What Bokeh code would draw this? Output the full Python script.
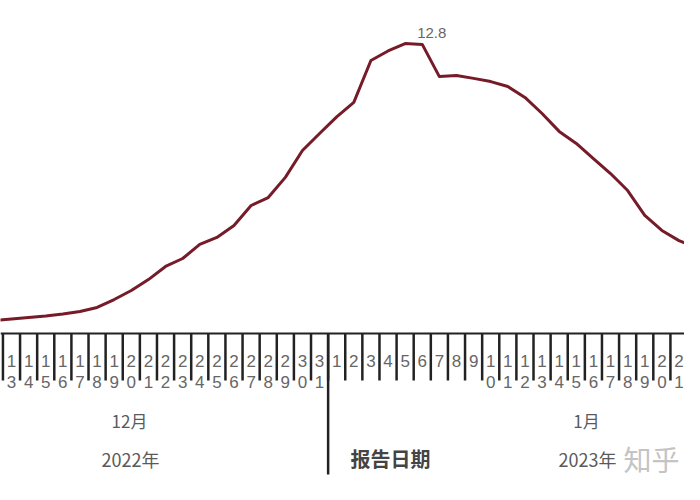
import pandas as pd
from bokeh.plotting import figure
from bokeh.models import Range1d, Span
from bokeh.core.properties import value
from bokeh.embed import file_html
from bokeh.resources import INLINE

# ---------------- data ----------------
dates = list(pd.date_range("2022-12-12", "2023-01-22", freq="D"))
values = [0.57, 0.64, 0.71, 0.77, 0.86, 0.97, 1.15, 1.50, 1.90, 2.38,
          2.96, 3.31, 3.93, 4.24, 4.77, 5.65, 6.00, 6.89, 8.08, 8.83,
          9.56, 10.20, 12.05, 12.47, 12.80, 12.76, 11.34, 11.39, 11.26, 11.12,
          10.90, 10.42, 9.71, 8.92, 8.39, 7.72, 7.06, 6.31, 5.21, 4.55,
          4.10, 3.80]
month_labels = ["12月", "1月"]
year_labels = ["2022年", "2023年"]
axis_title = "报告日期"
watermark = "知乎"

# ---------------- layout ----------------
W, H = 684, 484
DX = 17.115              # pixels per day
X0 = 11 - DX             # pixel of first category (Dec 12, off the left edge)
AXIS_Y = 333             # pixel of the axis line (value 0)
S = 22.656               # pixels per unit

idx = list(range(len(dates)))
x_start = (0 - X0) / DX
x_end = (W - X0) / DX
y_start = (AXIS_Y - H) / S
y_end = AXIS_Y / S

p = figure(width=W, height=H, output_backend="svg", toolbar_location=None,
           x_range=Range1d(x_start, x_end), y_range=Range1d(y_start, y_end),
           x_axis_location=None, y_axis_location=None, min_border=0,
           background_fill_color="white", border_fill_color="white")
p.grid.visible = False
p.outline_line_color = None
p.extra_y_ranges = {"px": Range1d(start=H, end=0)}
p.extra_x_ranges = {"pxx": Range1d(start=0, end=W)}

LINE_C = "#761b28"
AX_C = "#222222"
TXT_C = "#666666"
CJK = value("Noto Sans CJK SC")
LAT = value("Liberation Sans")

# data line
p.line(x=idx, y=values, line_color=LINE_C, line_width=3, line_join="round")

# peak label
imax = max(idx, key=lambda i: values[i])
p.text(x=[imax], y=[values[imax]], text=[f"{values[imax]:.1f}"],
       text_font=LAT, text_font_size=value("15px"), text_color=TXT_C,
       text_align="left", text_baseline="middle", x_offset=12, y_offset=-11)

# axis line
p.add_layout(Span(location=AXIS_Y, dimension="width", y_range_name="px",
                  line_color=AX_C, line_width=2))

# ticks between days
bounds = [i - 0.5 for i in idx] + [idx[-1] + 0.5]
p.segment(x0=bounds, y0=[AXIS_Y] * len(bounds), x1=bounds, y1=[380] * len(bounds),
          y_range_name="px", line_color=AX_C, line_width=2.5)

# month separator
sep = [i - 0.5 for i in idx[1:] if dates[i].month != dates[i - 1].month]
p.segment(x0=sep, y0=[AXIS_Y] * len(sep), x1=sep, y1=[474] * len(sep),
          y_range_name="px", line_color=AX_C, line_width=2.5)

# day labels (digits stacked), only for days fully inside the frame
r1x, r1t, r2x, r2t = [], [], [], []
for i, d in zip(idx, dates):
    if not (x_start + 0.3 < i < x_end - 0.3):
        continue
    s = str(d.day)
    r1x.append(i); r1t.append(s[0])
    if len(s) > 1:
        r2x.append(i); r2t.append(s[1])
p.text(x=r1x, y=[360] * len(r1x), text=r1t, y_range_name="px",
       text_font=LAT, text_font_size=value("17px"), text_color=TXT_C,
       text_align="center", text_baseline="middle")
p.text(x=r2x, y=[381] * len(r2x), text=r2t, y_range_name="px",
       text_font=LAT, text_font_size=value("17px"), text_color=TXT_C,
       text_align="center", text_baseline="middle")

# month / year labels
p.text(x=[129, 586], y=[420, 420], text=month_labels, x_range_name="pxx", y_range_name="px",
       text_font=CJK, text_font_size=value("17px"), text_color="#5a5a5a",
       text_align="center", text_baseline="middle")
p.text(x=[130, 587], y=[458, 458], text=year_labels, x_range_name="pxx", y_range_name="px",
       text_font=CJK, text_font_size=value("18px"), text_color="#5a5a5a",
       text_align="center", text_baseline="middle")

# axis title
p.text(x=[350], y=[458], text=[axis_title], x_range_name="pxx", y_range_name="px",
       text_font=CJK, text_font_size=value("20px"), text_font_style="bold",
       text_color="#444444", text_align="left", text_baseline="middle")

# watermark
p.text(x=[623], y=[458], text=[watermark], x_range_name="pxx", y_range_name="px",
       text_font=CJK, text_font_size=value("28px"), text_color="#c4c4c4",
       text_align="left", text_baseline="middle")

open("out.html", "w").write(file_html(p, INLINE))
